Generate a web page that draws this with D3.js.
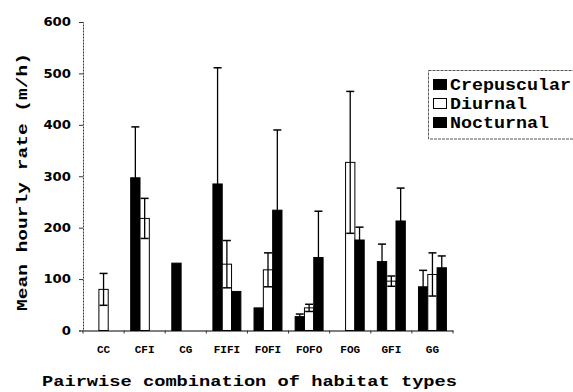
<!DOCTYPE html>
<html><head><meta charset="utf-8">
<script src="https://cdn.jsdelivr.net/npm/d3@7"></script>
<style>
html,body{margin:0;padding:0;background:#fff;}
svg{display:block;}
</style></head>
<body>
<svg id="chart" width="573" height="392"></svg>
<script>
const categories = ["CC","CFI","CG","FIFI","FOFI","FOFO","FOG","GFI","GG"];
const seriesNames = ["Crepuscular","Diurnal","Nocturnal"];
const crepuscular = [0, 297, 131, 285, 44, 27, 0, 134, 85];
const crepuscularErr = [0, 99, 0, 226, 0, 5, 0, 34, 32];
const diurnal = [80, 218, 0, 129, 118, 44, 327, 96, 109];
const diurnalErr = [31, 39, 0, 46, 33, 7, 138, 10, 42];
const nocturnal = [0, 0, 0, 76, 234, 142, 176, 213, 122];
const nocturnalErr = [0, 0, 0, 0, 156, 90, 25, 64, 23];
const yTicks = [0, 100, 200, 300, 400, 500, 600];
const seriesFill = {Crepuscular:"#000", Diurnal:"#fff", Nocturnal:"#000"};

const values = [crepuscular, diurnal, nocturnal];
const errs = [crepuscularErr, diurnalErr, nocturnalErr];

const svg = d3.select("#chart");
const mLeft = 83, mRight = 453, mTop = 22, mBottom = 330.5;

const x = d3.scaleBand().domain(categories).range([mLeft, mRight]).paddingInner(0.32).paddingOuter(0.16);
const xs = d3.scaleBand().domain(seriesNames).range([0, x.bandwidth()]);
const y = d3.scaleLinear().domain([0, 600]).range([mBottom, mTop]);

const mono = "'Liberation Mono','Courier New',monospace";

// y axis
const yAxis = svg.append("g").attr("transform", `translate(${mLeft},0)`)
  .call(d3.axisLeft(y).tickValues(yTicks).tickSize(4).tickPadding(8).tickFormat(d3.format("d")));
yAxis.select(".domain").attr("stroke", "#333").attr("stroke-dasharray", "2,1");
yAxis.selectAll(".tick line").attr("stroke", "#333");
yAxis.selectAll(".tick text")
  .attr("font-family", "'DejaVu Sans',Arial,sans-serif").attr("font-weight", "bold").attr("font-size", 12)
  .attr("fill", "#000")
  .attr("textLength", d => String(d).length * 9.2).attr("lengthAdjust", "spacingAndGlyphs");

// x axis
const xAxis = svg.append("g").attr("transform", `translate(0,${mBottom})`)
  .call(d3.axisBottom(x).tickSize(0).tickPadding(15));
xAxis.select(".domain").attr("stroke", "#000").attr("stroke-width", 1);
xAxis.selectAll(".tick text")
  .attr("font-family", mono).attr("font-weight", "bold").attr("font-size", 11).attr("fill", "#000");
// boundary ticks
const bounds = categories.map(c => x(c) - x.step() * x.paddingInner() / 2).concat([mRight]);
svg.append("g").selectAll("line").data(bounds).join("line")
  .attr("x1", d => d).attr("x2", d => d).attr("y1", mBottom).attr("y2", mBottom + 3)
  .attr("stroke", "#333");

// bars
const barData = [];
seriesNames.forEach((s, si) => {
  categories.forEach((c, ci) => {
    if (values[si][ci] > 0) barData.push({s, c, v: values[si][ci], e: errs[si][ci]});
  });
});
const g = svg.append("g");
g.selectAll("rect").data(barData).join("rect")
  .attr("x", d => x(d.c) + xs(d.s))
  .attr("y", d => y(d.v))
  .attr("width", xs.bandwidth())
  .attr("height", d => y(0) - y(d.v))
  .attr("fill", d => seriesFill[d.s])
  .attr("stroke", "#000").attr("stroke-width", 1);

// error bars
const eb = g.selectAll("g.err").data(barData.filter(d => d.e > 0)).join("g").attr("class", "err");
const cx = d => x(d.c) + xs(d.s) + xs.bandwidth() / 2;
eb.append("line").attr("x1", cx).attr("x2", cx)
  .attr("y1", d => y(Math.max(0, d.v - d.e))).attr("y2", d => y(d.v + d.e))
  .attr("stroke", "#000").attr("stroke-width", 1.3);
eb.append("line").attr("x1", d => cx(d) - 4).attr("x2", d => cx(d) + 4)
  .attr("y1", d => y(d.v + d.e)).attr("y2", d => y(d.v + d.e))
  .attr("stroke", "#000").attr("stroke-width", 1.5);
eb.append("line").attr("x1", d => cx(d) - 4).attr("x2", d => cx(d) + 4)
  .attr("y1", d => y(Math.max(0, d.v - d.e))).attr("y2", d => y(Math.max(0, d.v - d.e)))
  .attr("stroke", "#000").attr("stroke-width", 1.5);

// legend
const lg = svg.append("g");
lg.append("rect").attr("x", 428.5).attr("y", 70.5).attr("width", 150).attr("height", 68.5)
  .attr("fill", "#fff").attr("stroke", "#555").attr("stroke-dasharray", "3,1");
seriesNames.forEach((s, i) => {
  const yy = 79.5 + i * 19;
  lg.append("rect").attr("x", 433.5).attr("y", yy).attr("width", 13).attr("height", 10)
    .attr("fill", seriesFill[s]).attr("stroke", "#000");
  lg.append("text").attr("x", 450).attr("y", yy + 10.5).text(s)
    .attr("font-family", mono).attr("font-weight", "bold").attr("font-size", 16)
    .attr("textLength", s.length * 11).attr("lengthAdjust", "spacingAndGlyphs");
});

// axis titles
svg.append("text").attr("transform", "translate(27,182) rotate(-90)")
  .attr("text-anchor", "middle").text("Mean hourly rate (m/h)")
  .attr("font-family", mono).attr("font-weight", "bold").attr("font-size", 15)
  .attr("textLength", 258).attr("lengthAdjust", "spacingAndGlyphs");
svg.append("text").attr("x", 249.5).attr("y", 386).attr("text-anchor", "middle")
  .text("Pairwise combination of habitat types")
  .attr("font-family", mono).attr("font-weight", "bold").attr("font-size", 15)
  .attr("textLength", 415).attr("lengthAdjust", "spacingAndGlyphs");
</script>
</body></html>
